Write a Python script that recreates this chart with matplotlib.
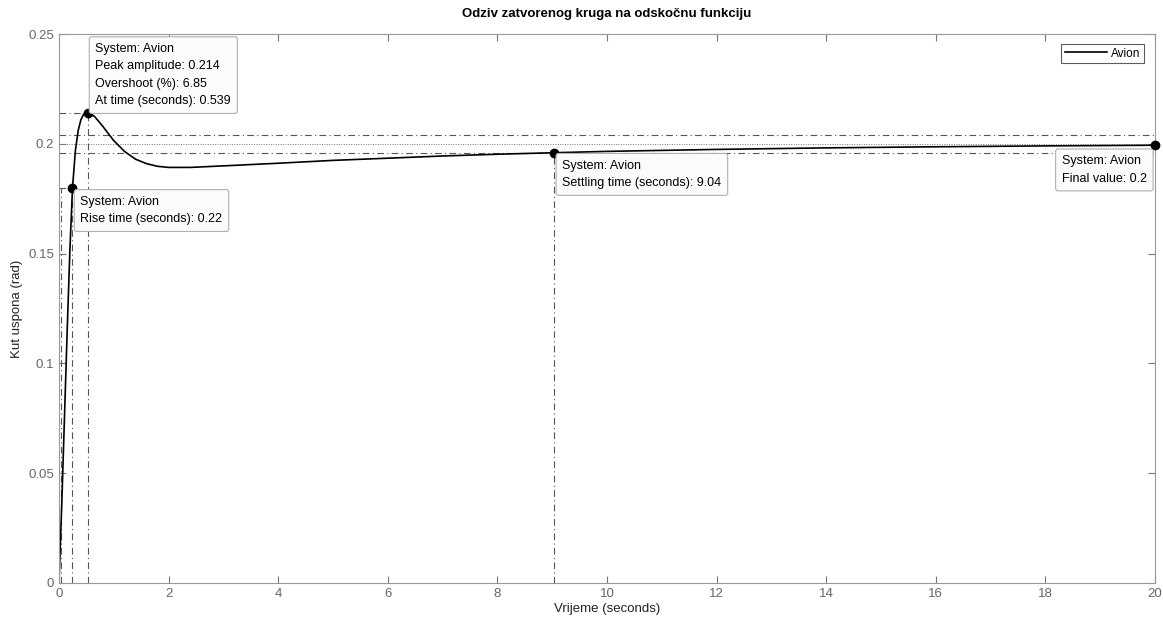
import matplotlib
matplotlib.use("Agg")
import matplotlib.pyplot as plt

plt.rcParams['font.family'] = ['Liberation Sans', 'DejaVu Sans']

# step response
t = [0, 0.05, 0.10, 0.15, 0.20, 0.247, 0.30, 0.35, 0.40, 0.45, 0.539, 0.65,
     0.80, 1.0, 1.2, 1.4, 1.6, 1.8, 2.0, 2.4, 3.0, 4.0, 5.0, 6.0, 7.0, 8.0,
     9.04, 10, 12, 14, 16, 18, 20]
y = [0, 0.035, 0.075, 0.115, 0.152, 0.180, 0.197, 0.206, 0.211, 0.2135, 0.214, 0.2125,
     0.208, 0.2015, 0.1965, 0.193, 0.191, 0.1898, 0.1893, 0.1893, 0.1900, 0.1912, 0.1925, 0.1935, 0.1945, 0.1953,
     0.196, 0.1966, 0.1975, 0.1982, 0.1987, 0.1991, 0.1994]

final_value = 0.2
t10, t90, y90 = 0.03, 0.247, 0.18
t_peak, y_peak = 0.539, 0.214
t_settle, y_settle = 9.04, 0.196
band = [0.196, 0.204]

xticks = [0, 2, 4, 6, 8, 10, 12, 14, 16, 18, 20]
yticks = [0, 0.05, 0.1, 0.15, 0.2, 0.25]

fig = plt.figure(figsize=(11.63, 6.21), dpi=100)
ax = fig.add_axes([0.0507, 0.0612, 0.9423, 0.8838])

cc = '#555555'
dd = (0, (6, 3, 1, 3))
# settling band + final value
for b in band:
    ax.plot([0, 20], [b, b], color=cc, lw=0.8, linestyle=dd)
ax.plot([0, 20], [final_value, final_value], color='#777777', lw=0.7, linestyle=(0, (1, 1.5)))
# rise time
ax.plot([0, t90], [y90, y90], color=cc, lw=0.8, linestyle=dd)
ax.plot([t90, t90], [0, y90], color=cc, lw=0.8, linestyle=dd)
ax.plot([t10, t10], [0, y90], color=cc, lw=0.8, linestyle=dd)
# peak
ax.plot([0, t_peak], [y_peak, y_peak], color=cc, lw=0.8, linestyle=dd)
ax.plot([t_peak, t_peak], [0, y_peak], color=cc, lw=0.8, linestyle=dd)
# settling
ax.plot([t_settle, t_settle], [0, y_settle], color=cc, lw=0.8, linestyle=dd)

ax.plot(t, y, color='black', lw=1.2, label='Avion')

pts = [(t90, y90), (t_peak, y_peak), (t_settle, y_settle), (20, y[-1])]
for px, py in pts:
    ax.plot(px, py, 'o', color='black', ms=6, clip_on=False, zorder=5)

box = dict(boxstyle='round,pad=0.5,rounding_size=0.2', fc='#fbfbfb', ec='#b0b0b0', lw=0.8)
fs = 9
ls = 1.6
ax.annotate('System: Avion\nPeak amplitude: 0.214\nOvershoot (%): 6.85\nAt time (seconds): 0.539',
            xy=(t_peak, y_peak), xytext=(7, 6), textcoords='offset pixels',
            ha='left', va='bottom', fontsize=fs, bbox=box, linespacing=ls, zorder=6)
ax.annotate('System: Avion\nRise time (seconds): 0.22',
            xy=(t90, y90), xytext=(8, -8), textcoords='offset pixels',
            ha='left', va='top', fontsize=fs, bbox=box, linespacing=ls, zorder=6)
ax.annotate('System: Avion\nSettling time (seconds): 9.04',
            xy=(t_settle, y_settle), xytext=(8, -7), textcoords='offset pixels',
            ha='left', va='top', fontsize=fs, bbox=box, linespacing=ls, zorder=6)
ax.annotate('System: Avion\nFinal value: 0.2',
            xy=(20, y[-1]), xytext=(-8, -10), textcoords='offset pixels',
            ha='right', va='top', multialignment='left', fontsize=fs, bbox=box,
            linespacing=ls, zorder=6)

ax.set_xlim(0, 20)
ax.set_ylim(0, 0.25)
ax.set_xticks(xticks)
ax.set_yticks(yticks)
ax.set_yticklabels(['0', '0.05', '0.1', '0.15', '0.2', '0.25'])
ax.tick_params(direction='in', top=True, right=True, length=5, width=0.8,
               colors='#777777', labelcolor='#666666', labelsize=9.5)
for s in ax.spines.values():
    s.set_color('#999999')
    s.set_linewidth(0.8)

ax.set_xlabel('Vrijeme (seconds)', fontsize=9.5, color='#222222', labelpad=2)
ax.set_ylabel('Kut uspona (rad)', fontsize=9.5, color='#222222', labelpad=4)
ax.set_title('Odziv zatvorenog kruga na odskočnu funkciju', fontsize=9.5, fontweight='bold', pad=12)

leg = ax.legend(loc='upper right', fontsize=8.5, fancybox=False, edgecolor='#333333',
                handlelength=3.6, borderpad=0.3, handletextpad=0.3, borderaxespad=0,
                bbox_to_anchor=(0.99, 0.982))
leg.get_frame().set_linewidth(0.8)

fig.savefig('out.png', dpi=100, facecolor='white')
